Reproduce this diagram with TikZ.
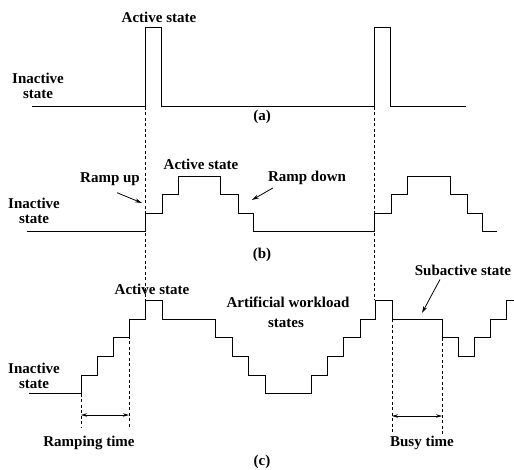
\documentclass[tikz,border=0pt]{standalone}
\usepackage{fontspec}
\setmainfont{Liberation Serif}
\usetikzlibrary{arrows.meta,positioning}

\begin{document}
\begin{tikzpicture}[
  x=1pt, y=1pt,
  wave/.style={line width=1pt, line join=miter},
  guide/.style={dash pattern=on 3pt off 2.5pt, line width=0.7pt},
  lbl/.style={font=\bfseries\fontsize{15}{15.5}\selectfont, inner sep=1pt, align=center},
  ptr/.style={-{Stealth[length=7pt,width=4pt]}, line width=0.8pt},
  span/.style={{Stealth[length=6pt,width=3.5pt]}-{Stealth[length=6pt,width=3.5pt]}, line width=0.8pt}
]
  \useasboundingbox (0,0) rectangle (514,470);

  % (a) plain on/off workload
  \draw[wave] (32,363) -- (145,363) -- (145,442) -- (161,442) -- (161,363)
    -- (374,363) -- (374,442) -- (390,442) -- (390,363) -- (466,363);
  \node[lbl] (actA) at (159,453) {Active state};
  \node[lbl] (inactA) at (38,384) {Inactive\\state};
  \node[lbl] (capA) at (262,353) {(a)};

  % (b) ramp up / ramp down
  \draw[wave] (27,238) -- (145,238) |- (162,256.5) |- (178,275) |- (220,293.5)
    |- (238,275) |- (253,256.5) |- (374,238) |- (391,256.5) |- (407,275)
    |- (450,293.5) |- (467,275) |- (482,256.5) |- (497,238);
  \node[lbl] (inactB) at (34,259) {Inactive\\state};
  \node[lbl] (rampup) at (110,291) {Ramp up};
  \node[lbl] (actB) at (201,306) {Active state};
  \node[lbl] (rampdown) at (307,292) {Ramp down};
  \node[lbl] (capB) at (262,215) {(b)};
  \coordinate (upTip) at (142,267);
  \coordinate (downTip) at (252,270);
  \draw[ptr] ([shift={(7,-6)}]rampup.south) -- (upTip);
  \draw[ptr] ([shift={(6,-2)}]rampdown.south west) -- (downTip);

  % (c) artificial workload states
  \draw[wave] (29,76) -- (81,76) |- (97,94.7) |- (113,113.4) |- (129,132.1)
    |- (145,150.8) |- (162,169.5) |- (215,150.8) |- (232,132.1) |- (248,113.4)
    |- (265,94.7) |- (311,76) |- (327,94.7) |- (343,113.4) |- (360,132.1)
    |- (375,150.8) |- (392,169.5) |- (442,150.8) |- (458,132.1) |- (474,113.4)
    |- (490,132.1) |- (506,150.8) |- (514,169.5);
  \node[lbl] (inactC) at (34,94) {Inactive\\state};
  \node[lbl] (actC) at (152,181) {Active state};
  \node[lbl] (artif) at (288,168) {Artificial workload};
  \node[lbl] (artif2) at (286,147) {states};
  \node[lbl] (subact) at (463,200) {Subactive state};
  \coordinate (subTip) at (422,157);
  \draw[ptr] ([shift={(-23,-3)}]subact.south) -- (subTip);

  % dashed guides through all three plots
  \coordinate (g1top) at (145,363);
  \coordinate (g1bot) at (145,169.5);
  \coordinate (g2top) at (374,363);
  \coordinate (g2bot) at (374,169.5);
  \draw[guide] (g1top) -- (g1bot);
  \draw[guide] (g2top) -- (g2bot);

  % ramping time
  \coordinate (rA) at (81,76);
  \coordinate (rB) at (129,150.8);
  \coordinate (rAe) at (81,42);
  \coordinate (rBe) at (129,42);
  \coordinate (rAm) at (81,55);
  \coordinate (rBm) at (129,55);
  \draw[guide] (rA) -- (rAe);
  \draw[guide] (rB) -- (rBe);
  \draw[span] (rAm) -- (rBm);
  \node[lbl] (ramptime) at (89,27) {Ramping time};

  % busy time
  \coordinate (bA) at (392,150.8);
  \coordinate (bB) at (442,132.1);
  \coordinate (bAe) at (392,36);
  \coordinate (bBe) at (442,36);
  \coordinate (bAm) at (392,54);
  \coordinate (bBm) at (442,54);
  \draw[guide] (bA) -- (bAe);
  \draw[guide] (bB) -- (bBe);
  \draw[span] (bAm) -- (bBm);
  \node[lbl] (busytime) at (422,27) {Busy time};

  \node[lbl] (capC) at (262,8) {(c)};
\end{tikzpicture}
\end{document}
